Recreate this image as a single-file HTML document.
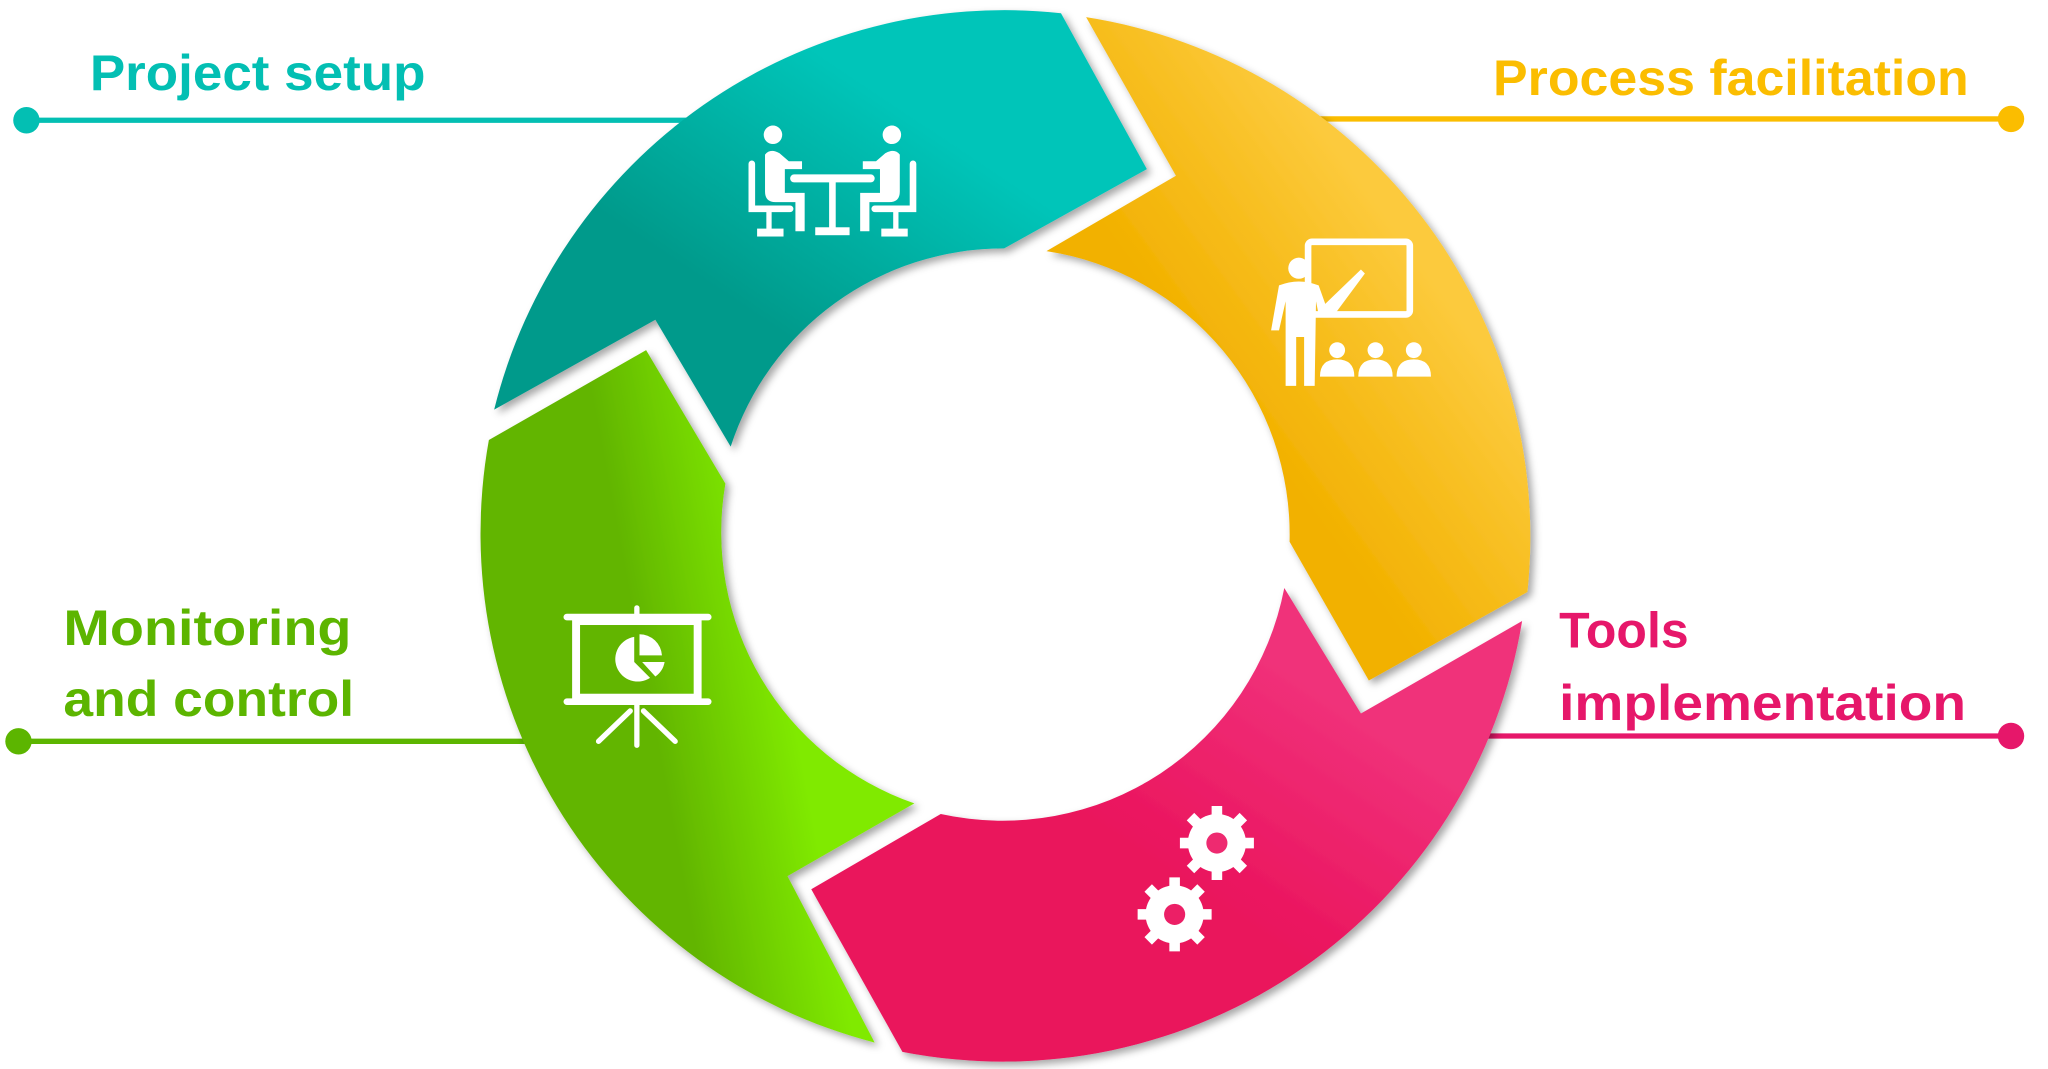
<!DOCTYPE html>
<html><head><meta charset="utf-8"><style>
html,body{margin:0;padding:0;background:#fff;}
svg{display:block;}
text{font-family:"Liberation Sans",sans-serif;font-weight:bold;}
</style></head><body>
<svg width="2048" height="1069" viewBox="0 0 1550 809" preserveAspectRatio="none" xmlns="http://www.w3.org/2000/svg">
<defs>
<linearGradient id="gt" x1="0" y1="1" x2="1" y2="0"><stop offset="0.35" stop-color="#009a8b"/><stop offset="0.7" stop-color="#03c5b9"/></linearGradient>
<linearGradient id="gy" x1="0" y1="1" x2="1" y2="0"><stop offset="0.4" stop-color="#f2b100"/><stop offset="0.7" stop-color="#fcca3c"/></linearGradient>
<linearGradient id="gp" x1="0" y1="1" x2="1" y2="0"><stop offset="0.45" stop-color="#ea135c"/><stop offset="0.75" stop-color="#f0317a"/></linearGradient>
<linearGradient id="gg" x1="0" y1="0.3" x2="1" y2="0"><stop offset="0.3" stop-color="#62b500"/><stop offset="0.6" stop-color="#80ea02"/></linearGradient>
<filter id="sh" x="-10%" y="-10%" width="120%" height="120%"><feDropShadow dx="3" dy="3" stdDeviation="3" flood-color="#000" flood-opacity="0.35"/></filter>
</defs>
<!-- lines -->
<line x1="20" y1="91" x2="540" y2="91" stroke="#03bfb3" stroke-width="4"/>
<circle cx="20" cy="91" r="10" fill="#03bfb3"/>
<line x1="990" y1="90" x2="1522" y2="90" stroke="#fbbd00" stroke-width="4"/>
<circle cx="1522" cy="90" r="10" fill="#fbbd00"/>
<line x1="14" y1="561" x2="420" y2="561" stroke="#5cb500" stroke-width="4"/>
<circle cx="14" cy="561" r="10" fill="#5cb500"/>
<line x1="1110" y1="557" x2="1522" y2="557" stroke="#e6176a" stroke-width="4"/>
<circle cx="1522" cy="557" r="10" fill="#e6176a"/>
<!-- segments -->
<g filter="url(#sh)">
<path d="M374,310 A398,398 0 0 1 803,10 L868,128 L760,188 A217,217 0 0 0 553,338 L496,242 Z" fill="url(#gt)"/>
<path d="M822,13 A398,398 0 0 1 1156,448 L1036,515 L976,410 A217,217 0 0 0 792,190 L890,133 Z" fill="url(#gy)"/>
<path d="M1152,470 A398,398 0 0 1 683,796 L614,673 L712,616 A217,217 0 0 0 972,445 L1030,540 Z" fill="url(#gp)"/>
<path d="M662,789 A398,398 0 0 1 370,333 L489,265 L549,366 A217,217 0 0 0 692,608 L596,663 Z" fill="url(#gg)"/>
</g>
<!-- texts -->
<text x="68" y="68" font-size="38" fill="#03bfb3" textLength="254" lengthAdjust="spacingAndGlyphs">Project setup</text>
<text x="1130" y="72" font-size="38" fill="#fbbd00" textLength="360" lengthAdjust="spacingAndGlyphs">Process facilitation</text>
<text x="48" y="488" font-size="38" fill="#5cb500" textLength="218" lengthAdjust="spacingAndGlyphs">Monitoring</text>
<text x="48" y="542" font-size="38" fill="#5cb500" textLength="220" lengthAdjust="spacingAndGlyphs">and control</text>
<text x="1180" y="490" font-size="38" fill="#e6176a" textLength="98" lengthAdjust="spacingAndGlyphs">Tools</text>
<text x="1180" y="545" font-size="38" fill="#e6176a" textLength="308" lengthAdjust="spacingAndGlyphs">implementation</text>
<!-- teal icon: meeting -->
<g fill="#fff" stroke="#fff" stroke-linecap="round">
<circle cx="585" cy="102" r="7" stroke="none"/>
<circle cx="675" cy="102" r="7" stroke="none"/>
<path d="M579,117 Q583,112 590,116 L597,122 L607,122 L607,128 L594,128 L594,146 L609,146 L609,175 L602,175 L602,153 L587,153 Q579,153 579,145 Z" stroke="none"/>
<path d="M681,117 Q677,112 670,116 L663,122 L653,122 L653,128 L666,128 L666,146 L651,146 L651,175 L658,175 L658,153 L673,153 Q681,153 681,145 Z" stroke="none"/>
<line x1="601" y1="135" x2="659" y2="135" stroke-width="6"/>
<line x1="630" y1="135" x2="630" y2="175" stroke-width="5" stroke-linecap="butt"/>
<rect x="617" y="172" width="26" height="6" stroke="none"/>
<path d="M569,124 L569,158 L598,158" fill="none" stroke-width="5"/>
<path d="M691,124 L691,158 L662,158" fill="none" stroke-width="5"/>
<line x1="582" y1="158" x2="582" y2="175" stroke-width="4" stroke-linecap="butt"/>
<line x1="678" y1="158" x2="678" y2="175" stroke-width="4" stroke-linecap="butt"/>
<rect x="573" y="173" width="20" height="6" stroke="none"/>
<rect x="667" y="173" width="20" height="6" stroke="none"/>
</g>
<!-- yellow icon: presenter -->
<g fill="#fff" stroke="#fff">
<rect x="990" y="183" width="77" height="55" rx="3" fill="none" stroke-width="5"/>
<circle cx="983" cy="203" r="8" stroke="none"/>
<path d="M968,216 Q983,210 998,216 L1003,230 L1030,204 L1033,207 L1010,238 L998,238 L996,228 L995,292 L987,292 L987,255 L981,255 L981,292 L973,292 L973,228 L968,250 L962,250 Z" stroke="none"/>
<circle cx="1012" cy="265" r="6" stroke="none"/><path d="M999,285 Q999,272 1012,272 Q1025,272 1025,285 Z" stroke="none"/>
<circle cx="1041" cy="265" r="6" stroke="none"/><path d="M1028,285 Q1028,272 1041,272 Q1054,272 1054,285 Z" stroke="none"/>
<circle cx="1070" cy="265" r="6" stroke="none"/><path d="M1057,285 Q1057,272 1070,272 Q1083,272 1083,285 Z" stroke="none"/>
</g>
<!-- green icon: easel -->
<g fill="none" stroke="#fff" stroke-linecap="round">
<line x1="429" y1="467" x2="536" y2="467" stroke-width="5"/>
<line x1="429" y1="531" x2="536" y2="531" stroke-width="5"/>
<rect x="436" y="470" width="92" height="58" stroke-width="6"/>
<line x1="482" y1="460" x2="482" y2="466" stroke-width="4"/>
<line x1="482" y1="533" x2="482" y2="564" stroke-width="4"/>
<line x1="477" y1="538" x2="453" y2="561" stroke-width="4"/>
<line x1="487" y1="538" x2="511" y2="561" stroke-width="4"/>
</g>
<g fill="#fff">
<path d="M480,482 A17,17 0 1 0 492,513 L480,501 Z"/>
<path d="M484,480 L484,496 L501,496 A17,17 0 0 0 484,480 Z"/>
<path d="M486,501 L503,501 A17,17 0 0 1 496,512 Z"/>
</g>
<!-- pink icon: gears -->
<g fill="#fff">
<circle cx="921" cy="638" r="22"/>
<g stroke="#fff" stroke-width="8">
<line x1="921" y1="610" x2="921" y2="666"/><line x1="893" y1="638" x2="949" y2="638"/>
<line x1="901" y1="618" x2="941" y2="658"/><line x1="941" y1="618" x2="901" y2="658"/>
<line x1="889" y1="664" x2="889" y2="720"/><line x1="861" y1="692" x2="917" y2="692"/>
<line x1="869" y1="672" x2="909" y2="712"/><line x1="909" y1="672" x2="869" y2="712"/>
</g>
<circle cx="889" cy="692" r="22"/>
</g>
<circle cx="921" cy="638" r="8" fill="#ee2a70"/>
<circle cx="889" cy="692" r="8" fill="#ec1f66"/>
</svg>
</body></html>
